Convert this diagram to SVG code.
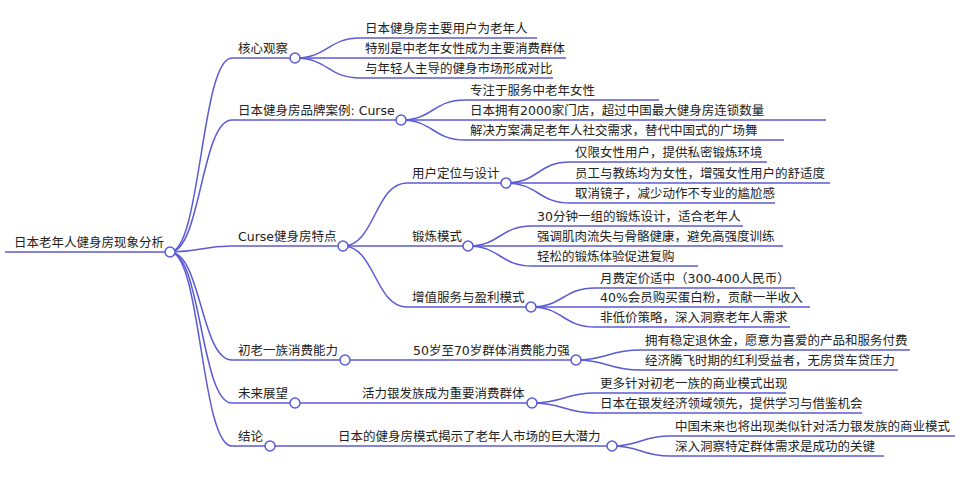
<svg xmlns="http://www.w3.org/2000/svg" width="967" height="482" viewBox="0 0 967 482">
<style>
.l{fill:none;stroke:#5b5bd6;stroke-width:1.5}
.c{fill:#fff;stroke:#5b5bd6;stroke-width:1.5}
text{font-family:"DejaVu Sans","Noto Sans CJK SC",sans-serif;font-size:12.5px;fill:#222}
</style>
<rect width="967" height="482" fill="#fff"/>
<g id="connectors" class="l">
<path d="M170,252 C201,252 201,58 232,58"/>
<path d="M170,252 C201,252 201,120 232,120"/>
<path d="M170,252 C201,252 201,246 232,246"/>
<path d="M170,252 C201,252 201,360 232,360"/>
<path d="M170,252 C201,252 201,403 232,403"/>
<path d="M170,252 C201,252 201,446 232,446"/>
<path d="M295,58 C328,58 328,38 360,38"/><path d="M295,58 L360,58"/><path d="M295,58 C328,58 328,78 360,78"/>
<path d="M401,120 C433,120 433,100 465,100"/><path d="M401,120 L465,120"/><path d="M401,120 C433,120 433,140 465,140"/>
<path d="M343,246 C375,246 375,183 407,183"/><path d="M343,246 L407,246"/><path d="M343,246 C375,246 375,307 407,307"/>
<path d="M506,183 C538,183 538,162 570,162"/><path d="M506,183 L570,183"/><path d="M506,183 C538,183 538,203 570,203"/>
<path d="M468,246 C500,246 500,226 532,226"/><path d="M468,246 L532,246"/><path d="M468,246 C500,246 500,266 532,266"/>
<path d="M531,307 C563,307 563,288 595,288"/><path d="M531,307 L595,307"/><path d="M531,307 C563,307 563,327 595,327"/>
<path d="M345,360 L408,360"/>
<path d="M576,360 C608,360 608,350 640,350"/><path d="M576,360 C608,360 608,370 640,370"/>
<path d="M295,403 L357,403"/>
<path d="M532,403 C564,403 564,393 595,393"/><path d="M532,403 C564,403 564,413 595,413"/>
<path d="M270,446 L333,446"/>
<path d="M612,446 C641,446 641,436 670,436"/><path d="M612,446 C641,446 641,456 670,456"/>
</g>
<g id="root"><path class="l" d="M5,252H170"/><text x="14" y="247">日本老年人健身房现象分析</text><circle class="c" cx="170" cy="252" r="5"/></g>
<g id="n1"><path class="l" d="M232,58H295"/><text x="238" y="53">核心观察</text><circle class="c" cx="295" cy="58" r="5"/></g>
<g id="n1a"><path class="l" d="M360,38H537"/><text x="365" y="33">日本健身房主要用户为老年人</text></g>
<g id="n1b"><path class="l" d="M360,58H566"/><text x="365" y="53">特别是中老年女性成为主要消费群体</text></g>
<g id="n1c"><path class="l" d="M360,78H553"/><text x="365" y="73">与年轻人主导的健身市场形成对比</text></g>
<g id="n2"><path class="l" d="M232,120H401"/><text x="238" y="115">日本健身房品牌案例: Curse</text><circle class="c" cx="401" cy="120" r="5"/></g>
<g id="n2a"><path class="l" d="M465,100H659"/><text x="470" y="95">专注于服务中老年女性</text></g>
<g id="n2b"><path class="l" d="M465,120H826"/><text x="470" y="115">日本拥有2000家门店，超过中国最大健身房连锁数量</text></g>
<g id="n2c"><path class="l" d="M465,140H784"/><text x="470" y="135">解决方案满足老年人社交需求，替代中国式的广场舞</text></g>
<g id="n3"><path class="l" d="M232,246H343"/><text x="238" y="241">Curse健身房特点</text><circle class="c" cx="343" cy="246" r="5"/></g>
<g id="n31"><path class="l" d="M407,183H506"/><text x="412" y="178">用户定位与设计</text><circle class="c" cx="506" cy="183" r="5"/></g>
<g id="n31a"><path class="l" d="M570,162H767"/><text x="575" y="157">仅限女性用户，提供私密锻炼环境</text></g>
<g id="n31b"><path class="l" d="M570,183H830"/><text x="575" y="178">员工与教练均为女性，增强女性用户的舒适度</text></g>
<g id="n31c"><path class="l" d="M570,203H775"/><text x="575" y="198">取消镜子，减少动作不专业的尴尬感</text></g>
<g id="n32"><path class="l" d="M407,246H468"/><text x="412" y="241">锻炼模式</text><circle class="c" cx="468" cy="246" r="5"/></g>
<g id="n32a"><path class="l" d="M532,226H743"/><text x="537" y="221">30分钟一组的锻炼设计，适合老年人</text></g>
<g id="n32b"><path class="l" d="M532,246H783"/><text x="537" y="241">强调肌肉流失与骨骼健康，避免高强度训练</text></g>
<g id="n32c"><path class="l" d="M532,266H698"/><text x="537" y="261">轻松的锻炼体验促进复购</text></g>
<g id="n33"><path class="l" d="M407,307H531"/><text x="412" y="302">增值服务与盈利模式</text><circle class="c" cx="531" cy="307" r="5"/></g>
<g id="n33a"><path class="l" d="M595,288H795"/><text x="600" y="283">月费定价适中（300-400人民币）</text></g>
<g id="n33b"><path class="l" d="M595,307H810"/><text x="600" y="302">40%会员购买蛋白粉，贡献一半收入</text></g>
<g id="n33c"><path class="l" d="M595,327H790"/><text x="600" y="322">非低价策略，深入洞察老年人需求</text></g>
<g id="n4"><path class="l" d="M232,360H345"/><text x="238" y="355">初老一族消费能力</text><circle class="c" cx="345" cy="360" r="5"/></g>
<g id="n41"><path class="l" d="M408,360H576"/><text x="413" y="355">50岁至70岁群体消费能力强</text><circle class="c" cx="576" cy="360" r="5"/></g>
<g id="n41a"><path class="l" d="M640,350H910"/><text x="645" y="345">拥有稳定退休金，愿意为喜爱的产品和服务付费</text></g>
<g id="n41b"><path class="l" d="M640,370H898"/><text x="645" y="365">经济腾飞时期的红利受益者，无房贷车贷压力</text></g>
<g id="n5"><path class="l" d="M232,403H295"/><text x="238" y="398">未来展望</text><circle class="c" cx="295" cy="403" r="5"/></g>
<g id="n51"><path class="l" d="M357,403H532"/><text x="362" y="398">活力银发族成为重要消费群体</text><circle class="c" cx="532" cy="403" r="5"/></g>
<g id="n51a"><path class="l" d="M595,393H786"/><text x="600" y="388">更多针对初老一族的商业模式出现</text></g>
<g id="n51b"><path class="l" d="M595,413H862"/><text x="600" y="408">日本在银发经济领域领先，提供学习与借鉴机会</text></g>
<g id="n6"><path class="l" d="M232,446H270"/><text x="238" y="441">结论</text><circle class="c" cx="270" cy="446" r="5"/></g>
<g id="n61"><path class="l" d="M333,446H612"/><text x="338" y="441">日本的健身房模式揭示了老年人市场的巨大潜力</text><circle class="c" cx="612" cy="446" r="5"/></g>
<g id="n61a"><path class="l" d="M670,436H955"/><text x="675" y="431">中国未来也将出现类似针对活力银发族的商业模式</text></g>
<g id="n61b"><path class="l" d="M670,456H884"/><text x="675" y="451">深入洞察特定群体需求是成功的关键</text></g>
</svg>
